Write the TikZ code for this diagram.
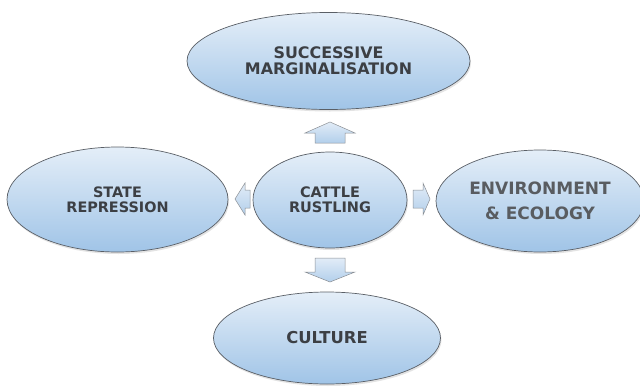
\documentclass[tikz,border=0pt]{standalone}
\usepackage{fontspec}
\setmainfont{DejaVu Sans}
\usetikzlibrary{shapes.geometric,shadows}
\definecolor{edgegray}{HTML}{5A5F66}
\definecolor{filltop}{HTML}{E4EEF8}
\definecolor{fillbot}{HTML}{A0C4E7}
\definecolor{txtgray}{HTML}{3C3F44}
\definecolor{arrtop}{HTML}{E2ECF7}
\definecolor{arrbot}{HTML}{B2CFEB}
\tikzset{
  topic/.style={ellipse, draw=edgegray, line width=0.7pt, inner sep=0pt,
    top color=filltop, bottom color=fillbot,
    drop shadow={shadow xshift=1pt, shadow yshift=-2pt, opacity=0.18, fill=black!60},
    text=txtgray, align=center},
  blockarrow/.style={draw=edgegray!70, line width=0.5pt, line join=miter,
    top color=arrtop, bottom color=arrbot},
}
\begin{document}
\begin{tikzpicture}[x=1pt,y=-1pt]
\useasboundingbox (0,0) rectangle (640,386);
\node[topic, minimum width=283pt, minimum height=97pt, font=\bfseries\fontsize{15.9}{16}\selectfont] (top) at (328.5,61) {SUCCESSIVE\\MARGINALISATION};
\node[topic, minimum width=154pt, minimum height=96pt, font=\bfseries\fontsize{14.5}{15}\selectfont] (mid) at (330,200) {CATTLE\\RUSTLING};
\node[topic, minimum width=221pt, minimum height=105pt, font=\bfseries\fontsize{14.4}{15}\selectfont] (left) at (117.5,199.5) {STATE\\REPRESSION};
\node[topic, minimum width=208pt, minimum height=102pt, text=txtgray!85, font=\bfseries\fontsize{17}{25}\selectfont] (right) at (540,201) {ENVIRONMENT\\\&\ ECOLOGY};
\node[topic, minimum width=227pt, minimum height=92pt, font=\bfseries\fontsize{16.4}{17}\selectfont] (bottom) at (327,338) {CULTURE};
% block arrows
\path[blockarrow] (305,133) -- (330,122) -- (355,133) -- (345,133) -- (345,143) -- (315,143) -- (315,133) -- cycle;
\path[blockarrow] (315,258) -- (345,258) -- (345,272) -- (355,272) -- (330,282) -- (305,272) -- (315,272) -- cycle;
\path[blockarrow] (235,199) -- (245,183) -- (245,190) -- (250,190) -- (250,208) -- (245,208) -- (245,215) -- cycle;
\path[blockarrow] (413,190) -- (423,190) -- (423,183) -- (430,199) -- (423,215) -- (423,208) -- (413,208) -- cycle;
\end{tikzpicture}
\end{document}
